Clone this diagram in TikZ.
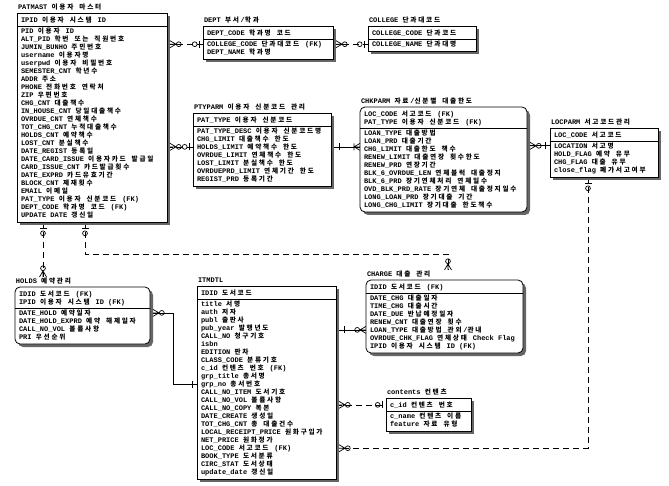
\documentclass[tikz,border=0pt]{standalone}
\usepackage{fontspec}
\setmainfont{Liberation Mono}
\newfontfamily\krfont[Scale=0.95]{Noto Sans CJK KR}
\usetikzlibrary{calc}
\pgfdeclarelayer{bgzero}
\pgfdeclarelayer{bgone}
\pgfsetlayers{bgzero,bgone,main}
% automatic switch to the Korean font for Hangul syllables
\newcount\krc
\XeTeXinterchartokenstate=1
\newXeTeXintercharclass\krclass
\krc="AC00
\loop
  \XeTeXcharclass\krc=\krclass
  \advance\krc by 1
\ifnum\krc<"D7A4 \repeat
\XeTeXinterchartoks 0 \krclass={\krfont}
\XeTeXinterchartoks 4095 \krclass={\krfont}
\XeTeXinterchartoks \krclass \krclass={\kern1.75pt}
\XeTeXinterchartoks \krclass 0={\kern1.75pt\rmfamily}
\XeTeXinterchartoks \krclass 4095={\kern1.75pt\rmfamily}
\newcommand\efont{\fontsize{7}{8}\selectfont\bfseries}
\tikzset{
  ebox/.style={draw=black, line width=0.8pt, fill=white, inner sep=0pt, outer sep=0pt},
  shadow/.style={fill=black!60},
  sepline/.style={line width=0.6pt},
  rowtxt/.style={inner sep=0pt, outer sep=0pt, anchor=base west, font=\efont},
  rel/.style={line width=0.7pt},
  reld/.style={rel, dash pattern=on 6pt off 4pt},
  mk/.style={line width=0.7pt, solid},
  rnd/.style={rounded corners=5pt},
  pics/crowo/.style={code={
    \draw[mk] (0,-3.5) -- (6,0) -- (0,3.5) (0,0) -- (6,0);
    \draw[mk] (8.8,0) circle[radius=2.4pt];}},
  pics/crowb/.style={code={
    \draw[mk] (0,-3.5) -- (6,0) -- (0,3.5) (0,0) -- (6,0) (6,-3.5) -- (6,3.5);}},
  pics/zo/.style={code={
    \draw[mk] (3.5,-3.5) -- (3.5,3.5);
    \draw[mk] (8.3,0) circle[radius=2.4pt];}},
  pics/one/.style={code={\draw[mk] (5,-3.5) -- (5,3.5);}},
}
% entity box: name, x, y(top), width, header rows, attribute rows, title, style
\newcommand\entbox[8]{%
  \pgfmathsetmacro\eh{9+8*(#5+#6)}%
  \pgfmathsetmacro\es{#3+5+8*#5}%
  \def\ex{#2}\def\ey{#3}%
  \node[rowtxt] (#1-title) at ({#2+1},{#3-3.5}) {#7};
  \fill[shadow,#8] ({#2+3},{#3+3}) rectangle ++(#4,\eh);
  \node[ebox,#8,minimum width=#4pt,minimum height=\eh pt,anchor=north west] (#1) at (#2,#3) {};
  \draw[sepline] (#2,\es) -- ++(#4,0);
}
% rows: name, header list, attribute list
\newcommand\erows[3]{%
  \foreach \t [count=\i from 0] in {#2} {\node[rowtxt] (#1-h\i) at ({\ex+4},{\ey+9.3+8*\i}) {\t};}
  \foreach \t [count=\i from 0] in {#3} {\node[rowtxt] (#1-a\i) at ({\ex+4},{\es+7.3+8*\i}) {\t};}
}
\begin{document}
\begin{tikzpicture}[x=1pt,y=-1pt]
\begin{pgfonlayer}{bgzero}
\fill[white] (0,0) rectangle (669,486);
\end{pgfonlayer}
\useasboundingbox (0,0) rectangle (669,486);

\entbox{patmast}{17}{13}{150}{1}{24}{PATMAST 이용자 마스터}{}
\erows{patmast}{IPID 이용자 시스템 ID}{PID 이용자 ID, ALT\_PID 학번 또는 직원번호, JUMIN\_BUNHO 주민번호, username 이용자명, userpwd 이용자 비밀번호, SEMESTER\_CNT 학년수, ADDR 주소, PHONE 전화번호 연락처, ZIP 우편번호, CHG\_CNT 대출책수, IN\_HOUSE\_CNT 당일대출책수, OVRDUE\_CNT 연체책수, TOT\_CHG\_CNT 누적대출책수, HOLDS\_CNT 예약책수, LOST\_CNT 분실책수, DATE\_REGIST 등록일, DATE\_CARD\_ISSUE 이용자카드 발급일, CARD\_ISSUE\_CNT 카드발급횟수, DATE\_EXPRD 카드유효기간, BLOCK\_CNT 제재횟수, EMAIL 이메일, PAT\_TYPE 이용자 신분코드 (FK), DEPT\_CODE 학과명 코드 (FK), UPDATE DATE 갱신일}

\entbox{dept}{203}{26}{130}{1}{2}{DEPT 부서/학과}{}
\erows{dept}{DEPT\_CODE 학과명 코드}{COLLEGE\_CODE 단과대코드 (FK), DEPT\_NAME 학과명}

\entbox{college}{368}{26}{108}{1}{1}{COLLEGE 단과대코드}{}
\erows{college}{COLLEGE\_CODE 단과코드}{COLLEGE\_NAME 단과대명}

\entbox{ptyparm}{193}{113}{138}{1}{7}{PTYPARM 이용자 신분코드 관리}{}
\erows{ptyparm}{PAT\_TYPE 이용자 신분코드}{PAT\_TYPE\_DESC 이용자 신분코드명, CHG\_LIMIT 대출책수 한도, HOLDS\_LIMIT 예약책수 한도, OVRDUE\_LIMIT 연체책수 한도, LOST\_LIMIT 분실책수 한도, OVRDUEPRD\_LIMIT 연체기간 한도, REGIST\_PRD 등록기간}

\entbox{chkparm}{360}{107}{167}{2}{10}{CHKPARM 자료/신분별 대출한도}{rnd}
\erows{chkparm}{LOC\_CODE 서고코드 (FK), PAT\_TYPE 이용자 신분코드 (FK)}{LOAN\_TYPE 대출방법, LOAN\_PRD 대출기간, CHG\_LIMIT 대출한도 책수, RENEW\_LIMIT 대출연장 횟수한도, RENEW\_PRD 연장기간, BLK\_6\_OVRDUE\_LEN 연체블럭 대출정지, BLK\_6\_PRD 장기연체처리 연체일수, OVD\_BLK\_PRD\_RATE 장기연체 대출정지일수, LONG\_LOAN\_PRD 장기대출 기간, LONG\_CHG\_LIMIT 장기대출 한도책수}

\entbox{locparm}{550}{128}{108}{1}{4}{LOCPARM 서고코드관리}{}
\erows{locparm}{LOC\_CODE 서고코드}{LOCATION 서고명, HOLD\_FLAG 예약 유무, CHG\_FLAG 대출 유무, close\_flag 폐가서고여부}

\entbox{holds}{15}{287}{135}{2}{4}{HOLDS 예약관리}{rnd}
\erows{holds}{IDID 도서코드 (FK), IPID 이용자 시스템 ID (FK)}{DATE\_HOLD 예약일자, DATE\_HOLD\_EXPRD 예약 해제일자, CALL\_NO\_VOL 볼륨사항, PRI 우선순위}

\entbox{itmdtl}{197}{286}{139}{1}{22}{ITMDTL}{}
\erows{itmdtl}{IDID 도서코드}{title 서명, auth 저자, publ 출판사, pub\_year 발행년도, CALL\_NO 청구기호, isbn, EDITION 판차, CLASS\_CODE 분류기호, c\_id 컨텐츠 번호 (FK), grp\_title 총서명, grp\_no 총서번호, CALL\_NO\_ITEM 도서기호, CALL\_NO\_VOL 볼륨사항, CALL\_NO\_COPY 복본, DATE\_CREATE 생성일, TOT\_CHG\_CNT 총 대출건수, LOCAL\_RECEIPT\_PRICE 원화구입가, NET\_PRICE 원화정가, LOC\_CODE 서고코드 (FK), BOOK\_TYPE 도서분류, CIRC\_STAT 도서상태, update\_date 갱신일}

\entbox{charge}{366}{280}{157}{1}{7}{CHARGE 대출 관리}{rnd}
\erows{charge}{IDID 도서코드 (FK)}{DATE\_CHG 대출일자, TIME\_CHG 대출시간, DATE\_DUE 반납예정일자, RENEW\_CNT 대출연장 횟수, LOAN\_TYPE 대출방법\_관외/관내, OVRDUE\_CHK\_FLAG 연체상태 Check Flag, IPID 이용자 시스템 ID (FK)}

\entbox{contents}{386}{398}{85}{1}{2}{contents 컨텐츠}{}
\erows{contents}{c\_id 컨텐츠 번호}{c\_name 컨텐츠 이름, feature 자료 유형}

% connector end points
\coordinate (pb1) at ($(patmast.south west)+(26,0)$);
\coordinate (pb2) at ($(patmast.south west)+(68,0)$);
\coordinate (pb2c) at ($(pb2)+(0,32)$);
\coordinate (hm) at ($(pb1 |- holds.north)+(0,-10)$);
\coordinate (cm) at ($(charge.north west)+(82,-10)$);
\coordinate (loc-s) at ($(locparm.south west)+(38,0)$);
\coordinate (itm-loc) at (itmdtl.east |- itmdtl-a18.west);
\coordinate (hv) at ($(holds.east |- holds-a0.west)+(23,0)$);

\begin{pgfonlayer}{bgone}
\draw[reld] (patmast.east |- dept-a0.west) -- (dept.west |- dept-a0.west);
\draw[reld] (dept.east |- dept-a0.west) -- (college.west |- dept-a0.west);
\draw[reld] (patmast.east |- ptyparm-a2.west) -- (ptyparm.west |- ptyparm-a2.west);
\draw[rel] (ptyparm.east |- ptyparm-a2.west) -- (chkparm.west |- ptyparm-a2.west);
\draw[rel] (chkparm.east |- locparm-a0.west) -- (locparm.west |- locparm-a0.west);
\draw[reld] (loc-s) |- (itm-loc);
\draw[reld] (itmdtl.east |- contents-h0.west) -- (contents.west |- contents-h0.west);
\draw[rel] (itmdtl.east |- charge-a4.west) -- (charge.west |- charge-a4.west);
\draw[rel] (holds.east |- holds-a0.west) -- (hv) |- (itmdtl.west |- itmdtl-a10.west);
\draw[reld] (pb1) -- (hm);
\draw[reld] (pb2) -- (pb2c) -| (cm);
\end{pgfonlayer}

% markers
\pic at ($(patmast.east |- dept-a0.west)+(3,0)$) {crowo};
\pic[rotate=180] at (dept.west |- dept-a0.west) {zo};
\pic at ($(dept.east |- dept-a0.west)+(3,0)$) {crowo};
\pic[rotate=180] at (college.west |- dept-a0.west) {zo};
\pic at ($(patmast.east |- ptyparm-a2.west)+(3,0)$) {crowo};
\pic[rotate=180] at (ptyparm.west |- ptyparm-a2.west) {zo};
\pic at ($(ptyparm.east |- ptyparm-a2.west)+(3,0)$) {one};
\pic[rotate=180] at (chkparm.west |- ptyparm-a2.west) {crowb};
\pic at ($(chkparm.east |- locparm-a0.west)+(3,0)$) {crowo};
\pic[rotate=180] at (locparm.west |- locparm-a0.west) {one};
\pic[rotate=-90] at ($(loc-s)+(0,3)$) {zo};
\pic at ($(itm-loc)+(3,0)$) {crowo};
\pic at ($(itmdtl.east |- contents-h0.west)+(3,0)$) {crowo};
\pic[rotate=180] at (contents.west |- contents-h0.west) {zo};
\pic at ($(itmdtl.east |- charge-a4.west)+(3,0)$) {one};
\pic[rotate=180] at (charge.west |- charge-a4.west) {crowo};
\pic at ($(holds.east |- holds-a0.west)+(3,0)$) {crowo};
\pic[rotate=180] at (itmdtl.west |- itmdtl-a10.west) {one};
\pic[rotate=-90] at ($(pb1)+(0,3)$) {zo};
\pic[rotate=90] at (hm) {crowo};
\pic[rotate=-90] at ($(pb2)+(0,3)$) {zo};
\pic[rotate=90] at (cm) {crowo};
\end{tikzpicture}
\end{document}
